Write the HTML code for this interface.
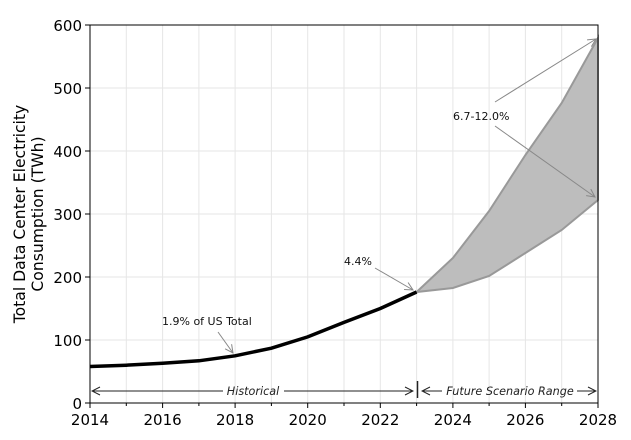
<!DOCTYPE html>
<html><head><style>body{margin:0;background:#fff}svg{display:block;font-family:"DejaVu Sans","Liberation Sans",sans-serif}</style></head>
<body>
<svg width="631" height="440" viewBox="0 0 631 440">
<defs><marker id="a" markerWidth="10" markerHeight="10" refX="9" refY="5" orient="auto" markerUnits="userSpaceOnUse"><path d="M1,1 L9,5 L1,9" fill="none" stroke="#888" stroke-width="1"/></marker>
<marker id="b" markerWidth="10" markerHeight="10" refX="9" refY="5" orient="auto" markerUnits="userSpaceOnUse"><path d="M1,1 L9,5 L1,9" fill="none" stroke="#222" stroke-width="1"/></marker>
<marker id="c" markerWidth="10" markerHeight="10" refX="1" refY="5" orient="auto" markerUnits="userSpaceOnUse"><path d="M9,1 L1,5 L9,9" fill="none" stroke="#222" stroke-width="1"/></marker></defs>
<g stroke="#e6e6e6" stroke-width="1">
<line x1="126.3" y1="25" x2="126.3" y2="403"/><line x1="162.6" y1="25" x2="162.6" y2="403"/><line x1="198.9" y1="25" x2="198.9" y2="403"/><line x1="235.1" y1="25" x2="235.1" y2="403"/><line x1="271.4" y1="25" x2="271.4" y2="403"/><line x1="307.7" y1="25" x2="307.7" y2="403"/><line x1="344" y1="25" x2="344" y2="403"/><line x1="380.3" y1="25" x2="380.3" y2="403"/><line x1="416.6" y1="25" x2="416.6" y2="403"/><line x1="452.9" y1="25" x2="452.9" y2="403"/><line x1="489.1" y1="25" x2="489.1" y2="403"/><line x1="525.4" y1="25" x2="525.4" y2="403"/><line x1="561.7" y1="25" x2="561.7" y2="403"/>
<line x1="90" y1="340" x2="598" y2="340"/><line x1="90" y1="277" x2="598" y2="277"/><line x1="90" y1="214" x2="598" y2="214"/><line x1="90" y1="151" x2="598" y2="151"/><line x1="90" y1="88" x2="598" y2="88"/>
</g>
<polygon points="416.6,292 452.9,258 489.1,211 525.4,155 561.7,103 598,38 598,200 561.7,230 525.4,253 489.1,276 452.9,288" fill="#bdbdbd" stroke="#999" stroke-width="2"/>
<polyline points="90,366.5 126.3,365.2 162.6,363.3 198.9,360.8 235.1,355.8 271.4,348.2 307.7,336.9 344,322.4 380.3,308.5 416.6,292" fill="none" stroke="#000" stroke-width="3.5"/>
<rect x="90" y="25" width="508" height="378" fill="none" stroke="#000" stroke-width="1"/>
<g stroke="#888" stroke-width="1" fill="none">
<line x1="218" y1="332" x2="233" y2="353" marker-end="url(#a)"/>
<line x1="375" y1="268" x2="413" y2="290" marker-end="url(#a)"/>
<line x1="495" y1="102" x2="596" y2="39" marker-end="url(#a)"/>
<line x1="495" y1="126" x2="595" y2="197" marker-end="url(#a)"/>
</g>
<g stroke="#222" stroke-width="1">
<line x1="92" y1="391" x2="223" y2="391" marker-start="url(#c)"/>
<line x1="284" y1="391" x2="413" y2="391" marker-end="url(#b)"/>
<line x1="417.5" y1="381" x2="417.5" y2="398" stroke-width="1.5"/>
<line x1="422" y1="391" x2="442" y2="391" marker-start="url(#c)"/>
<line x1="577" y1="391" x2="596" y2="391" marker-end="url(#b)"/>
</g>
<g font-size="11.2" font-style="italic" fill="#222"><text x="253" y="395" text-anchor="middle">Historical</text><text x="510" y="395" text-anchor="middle">Future Scenario Range</text></g>
<g font-size="11" fill="#111"><text x="162" y="325">1.9% of US Total</text><text x="344" y="265">4.4%</text><text x="453" y="120">6.7-12.0%</text></g>
<g stroke="#000"><line x1="85" y1="403" x2="90" y2="403"/><line x1="85" y1="340" x2="90" y2="340"/><line x1="85" y1="277" x2="90" y2="277"/><line x1="85" y1="214" x2="90" y2="214"/><line x1="85" y1="151" x2="90" y2="151"/><line x1="85" y1="88" x2="90" y2="88"/><line x1="85" y1="25" x2="90" y2="25"/>
<line x1="90" y1="403" x2="90" y2="408"/><line x1="126.3" y1="403" x2="126.3" y2="406"/><line x1="162.6" y1="403" x2="162.6" y2="408"/><line x1="198.9" y1="403" x2="198.9" y2="406"/><line x1="235.1" y1="403" x2="235.1" y2="408"/><line x1="271.4" y1="403" x2="271.4" y2="406"/><line x1="307.7" y1="403" x2="307.7" y2="408"/><line x1="344" y1="403" x2="344" y2="406"/><line x1="380.3" y1="403" x2="380.3" y2="408"/><line x1="416.6" y1="403" x2="416.6" y2="406"/><line x1="452.9" y1="403" x2="452.9" y2="408"/><line x1="489.1" y1="403" x2="489.1" y2="406"/><line x1="525.4" y1="403" x2="525.4" y2="408"/><line x1="561.7" y1="403" x2="561.7" y2="406"/><line x1="598" y1="403" x2="598" y2="408"/></g>
<g font-size="15" fill="#000" text-anchor="end"><text x="82" y="409">0</text><text x="82" y="346">100</text><text x="82" y="283">200</text><text x="82" y="220">300</text><text x="82" y="157">400</text><text x="82" y="94">500</text><text x="82" y="31">600</text></g>
<g font-size="15" fill="#000" text-anchor="middle"><text x="90" y="425">2014</text><text x="162.6" y="425">2016</text><text x="235.1" y="425">2018</text><text x="307.7" y="425">2020</text><text x="380.3" y="425">2022</text><text x="452.9" y="425">2024</text><text x="525.4" y="425">2026</text><text x="598" y="425">2028</text></g>
<g font-size="15.6" fill="#000" text-anchor="middle"><text transform="translate(25,214) rotate(-90)">Total Data Center Electricity</text><text transform="translate(43,214) rotate(-90)">Consumption (TWh)</text></g>
</svg>
</body></html>
